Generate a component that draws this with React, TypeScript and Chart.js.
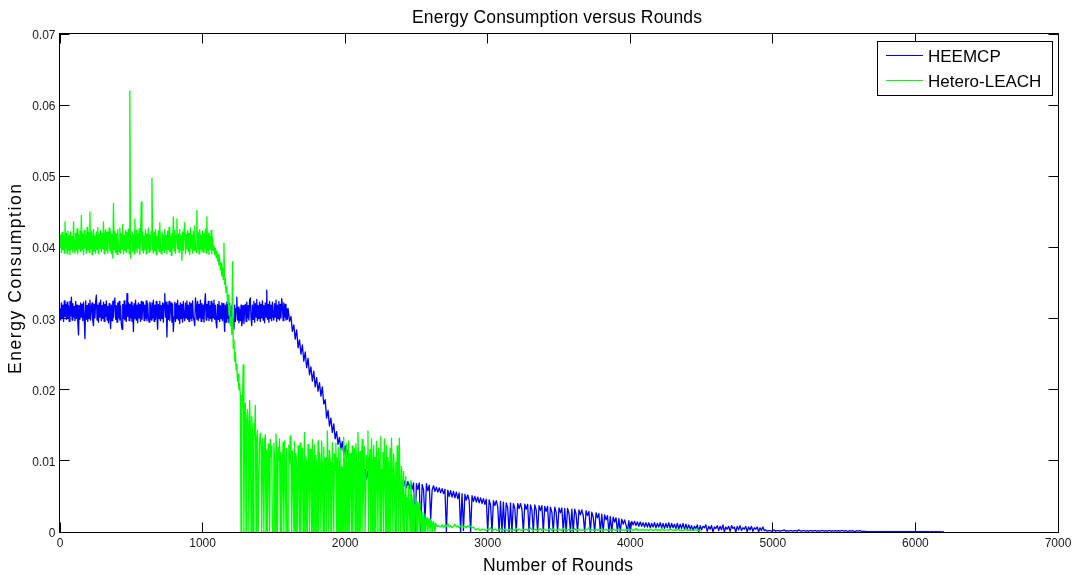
import { useEffect, useRef } from "react";
import { Chart, registerables } from "chart.js";

Chart.register(...registerables);

// ---------- data ----------
const CHART_TITLE = "Energy Consumption versus Rounds";
const X_AXIS_TITLE = "Number of Rounds";
const Y_AXIS_TITLE = "Energy Consumption";
const SERIES_NAMES = ["HEEMCP", "Hetero-LEACH"];

const X_TICKS = [0, 1000, 2000, 3000, 4000, 5000, 6000, 7000];
const X_TICK_LABELS = ["0", "1000", "2000", "3000", "4000", "5000", "6000", "7000"];
const Y_TICKS = [0, 0.01, 0.02, 0.03, 0.04, 0.05, 0.06, 0.07];
const Y_TICK_LABELS = ["0", "0.01", "0.02", "0.03", "0.04", "0.05", "0.06", "0.07"];

// energy values in units of 1e-4; each segment: first round, sampling step (rounds), values
const VALUE_UNIT = 1e-4;
const FINE_STEP = 5;
const COARSE_STEP = 10;

// HEEMCP
const heemcpPlateauStart = 0;
const heemcpPlateau = [
  314, 298, 322, 301, 319, 296, 325, 303, 320, 299,
  323, 300, 318, 296, 324, 304, 330, 298, 321, 302,
  317, 297, 324, 300, 319, 295, 277, 318, 299, 322,
  302, 320, 297, 323, 301, 272, 325, 299, 318, 296,
  321, 300, 326, 298, 317, 322, 297, 290, 320, 301,
  324, 333, 298, 319, 295, 322, 302, 326, 297, 318,
  300, 323, 296, 320, 303, 325, 298, 317, 294, 321,
  301, 286, 319, 297, 324, 302, 326, 329, 299, 318,
  295, 322, 301, 324, 298, 318, 293, 285, 320, 300,
  325, 298, 319, 296, 335, 303, 322, 297, 320, 301,
  323, 296, 318, 282, 321, 300, 326, 298, 319, 294,
  322, 301, 320, 296, 324, 299, 317, 323, 297, 319,
  300, 325, 297, 321, 302, 295, 323, 318, 298, 322,
  301, 326, 296, 319, 299, 324, 303, 285, 320, 300,
  324, 297, 318, 300, 322, 295, 321, 335, 302, 323,
  274, 319, 299, 324, 297, 318, 322, 295, 320, 282,
  302, 323, 296, 321, 300, 326, 298, 318, 293, 322,
  300, 320, 295, 324, 302, 297, 322, 301, 325, 299,
  319, 296, 323, 300, 321, 297, 325, 302, 298, 290,
  329, 318, 299, 324, 297, 320, 301, 326, 296, 321,
  300, 319, 295, 322, 335, 298, 320, 302, 324, 297,
  318, 300, 324, 296, 321, 301, 326, 299, 319, 294,
  287, 320, 299, 324, 296, 318, 300, 322, 297, 321,
  301, 282, 319, 295, 323, 300, 320, 294, 322, 302,
  297, 318, 293, 300, 285, 319, 296, 314, 330, 298,
  316, 294, 313, 297, 319, 290, 299, 318, 293, 312,
  320, 296, 323, 301, 318, 298, 326, 329, 300, 290,
  319, 299, 324, 295, 321, 302, 327, 297, 318, 300,
  323, 296, 320, 301, 325, 298, 318, 294, 322, 302,
  340, 299, 320, 295, 324, 300, 319, 297, 323, 303,
  298, 321, 302, 326, 296, 319, 300, 324, 298, 320,
  301, 328, 318, 297, 322, 302, 320, 298, 314, 299,
];
const heemcpDeclineStart = 1600;
const heemcpDecline = [
  314, 296, 303, 282, 291, 271, 284, 259, 270, 250,
  263, 240, 253, 231, 244, 221, 232, 212, 226, 204,
  217, 198, 210, 191, 204, 180, 186, 160, 171, 149,
  160, 140, 152, 131, 141, 123, 133, 116, 127, 109,
  121, 104, 115, 98, 110, 93, 105, 89, 101, 84,
  96, 80, 91, 77, 88, 74, 86, 72, 84, 70,
  82, 68, 80, 67, 78, 66, 77, 65, 76, 64,
  75, 64, 74, 63, 74, 63, 73, 63, 73, 62,
  72,
];
const heemcpTailStart = 2410;
const heemcpTail = [
  63, 72, 62, 71, 61, 70, 60, 69, 0, 68,
  60, 69, 0, 67, 59, 15, 68, 58, 66, 18,
  59, 65, 57, 63, 56, 62, 55, 61, 54, 60,
  0, 59, 50, 58, 49, 57, 48, 56, 47, 55,
  0, 54, 2, 53, 45, 52, 44, 0, 51, 43,
  50, 42, 49, 41, 48, 40, 47, 39, 46, 0,
  45, 38, 0, 44, 37, 44, 36, 0, 43, 0,
  42, 0, 41, 34, 0, 41, 0, 40, 33, 0,
  40, 33, 40, 32, 0, 39, 32, 39, 0, 38,
  31, 0, 38, 31, 0, 37, 30, 37, 0, 36,
  29, 36, 0, 35, 28, 0, 35, 28, 0, 34,
  27, 34, 0, 33, 0, 33, 26, 0, 32, 0,
  32, 25, 0, 31, 24, 31, 23, 0, 30, 23,
  29, 0, 28, 21, 0, 27, 20, 26, 0, 25,
  0, 24, 17, 23, 0, 22, 0, 21, 14, 20,
  0, 19, 0, 18, 11, 17, 10, 0, 16, 0,
  15, 10, 15, 9, 14, 8, 14, 8, 13, 7,
  13, 7, 13, 6, 12, 7, 13, 6, 12, 7,
  13, 6, 12, 5, 12, 6, 13, 5, 12, 6,
  11, 5, 12, 4, 11, 5, 12, 4, 11, 4,
];
const heemcpFadeStart = 4410;
const heemcpFade = [
  10, 4, 9, 2, 8, 5, 10, 0, 9, 3,
  8, 6, 10, 1, 8, 4, 9, 0, 7, 5,
  9, 2, 8, 3, 10, 0, 7, 4, 8, 1,
  9, 5, 7, 0, 8, 3, 9, 2, 6, 4,
  8, 0, 7, 3, 8, 1, 6, 4, 7, 0,
  6, 2, 7,
];
const heemcpLowStart = 4940;
const heemcpLow = [
  2, 3, 1, 2, 2, 1, 2, 3, 1, 2,
  2, 1, 2, 2, 3, 1, 2, 1, 2, 2,
  1, 2, 2, 1, 3, 2, 1, 2, 2, 1,
  2, 1, 2, 2, 1, 2, 2, 1, 2, 1,
  2, 2, 1, 2, 1, 2, 2, 1, 2, 1,
  2, 1, 2, 1, 2, 2, 1, 2, 1, 1,
  2, 1, 2, 1, 1, 2, 1, 2, 1, 1,
  1, 1,
];
const heemcpFloorStart = 5660;
const heemcpFloor = [
  0.6, 0.5, 0.5, 0.6, 0.4, 0.5, 0.6, 0.5, 0.4, 0.5,
  0.5, 0.6, 0.5, 0.4, 0.5, 0.5, 0.6, 0.5, 0.4, 0.5,
  0.5, 0.4, 0.5, 0.6, 0.5, 0.4, 0.5, 0.5, 0.4, 0.5,
  0.5, 0.4, 0.4, 0.5, 0.4, 0.5, 0.4, 0.4, 0.5, 0.4,
  0.4, 0.4, 0.5, 0.4, 0.3, 0.4, 0.4, 0.3, 0.4, 0.4,
  0.3, 0.4, 0.3, 0.3, 0.3,
];

// Hetero-LEACH
const leachPlateauStart = 0;
const leachPlateau = [
  400, 418, 393, 421, 397, 416, 392, 436, 399, 420,
  391, 423, 396, 417, 390, 422, 398, 415, 393, 436,
  401, 392, 420, 396, 426, 391, 418, 398, 423, 394,
  445, 397, 419, 390, 424, 399, 417, 392, 428, 396,
  421, 393, 450, 398, 423, 390, 417, 425, 395, 416,
  392, 422, 397, 428, 391, 418, 399, 424, 394, 420,
  398, 436, 391, 417, 425, 396, 421, 392, 415, 427,
  395, 422, 391, 418, 385, 462, 397, 423, 393, 419,
  390, 425, 400, 394, 427, 392, 420, 398, 432, 391,
  417, 396, 424, 393, 421, 399, 426, 391, 620, 385,
  415, 422, 394, 418, 391, 440, 397, 424, 393, 419,
  399, 426, 390, 417, 464, 396, 422, 392, 416, 397,
  425, 391, 419, 399, 427, 393, 417, 396, 422, 497,
  398, 392, 421, 395, 425, 390, 416, 399, 424, 394,
  435, 401, 391, 422, 396, 418, 393, 425, 398, 417,
  391, 423, 397, 428, 394, 416, 389, 420, 400, 443,
  395, 424, 392, 417, 440, 398, 419, 393, 425, 397,
  416, 382, 422, 396, 426, 435, 391, 418, 398, 424,
  394, 420, 390, 427, 399, 417, 392, 423, 396, 430,
  401, 393, 452, 397, 421, 391, 425, 398, 417, 395,
  423, 393, 419, 399, 426, 392, 443, 396, 420, 390,
  416, 397, 424, 391, 414, 396,
];
const leachDropStart = 1080;
const leachDrop = [
  402, 390, 399, 386, 395, 381, 390, 375, 385, 368,
  378, 360, 372, 355, 406, 348, 356, 336, 345, 322,
  333, 305, 318, 290, 302, 278, 380, 258, 270, 240,
  252, 228, 236, 212, 222, 200, 208, 192,
];
const leachScatterStart = 1270;
const leachScatter = [
  0, 192, 176, 235, 0, 168, 181, 0, 158, 172,
  150, 0, 185, 146, 0, 162, 138, 0, 152, 135,
  178, 0, 131, 143, 0, 0, 127, 139, 120, 0,
  132, 118, 0, 128, 137, 0, 115, 0, 124, 110,
  0, 130, 106, 121, 0, 0, 125, 103, 0, 138,
  108, 0, 119, 100, 131, 0, 112, 0, 98, 126,
  0, 128, 104, 0, 117, 0, 0, 122, 96, 135,
  101, 0, 114, 94, 0, 127, 0, 110, 92, 0,
  121, 99, 0, 125, 0, 103, 118, 0, 90, 140,
  0, 106, 95, 0, 123, 88, 0, 116, 101, 0,
  130, 0, 93, 122, 0, 108, 90, 0, 128, 0,
  112, 97, 0, 128, 93, 0, 119, 0, 104, 86,
  0, 142, 100, 0, 115, 98, 0, 0, 126, 91,
  0, 110, 87, 125, 0, 104, 0, 119, 95, 0,
  118, 0, 92, 0, 133, 96, 0, 109, 124, 0,
  96, 128, 0, 110, 85, 0, 121, 0, 100, 117,
  0, 124, 101, 0, 140, 90, 0, 113, 0, 105,
  130, 0, 94, 120, 0, 0, 108, 88, 142, 0,
  100, 116, 0, 131, 0, 95, 122, 0, 105, 0,
  127, 90, 0, 118, 99, 0, 134, 0, 88, 112,
  0, 131, 97, 0, 122, 0, 105, 90, 0, 118,
  0, 132, 86, 0, 110, 75, 0, 98, 0, 121,
  82, 0, 132, 60, 0, 92, 70, 0, 85, 0,
  52, 78, 0, 48, 0, 65, 42, 0, 72, 50,
  0, 45, 55, 0, 38, 48, 0, 42, 0, 35,
  40, 0, 30, 22, 0, 28, 18, 0, 25, 0,
  17, 20, 0, 15, 18, 0, 13, 16, 0, 12,
  15, 10, 0, 12, 9, 8,
];
const leachTailStart = 2650;
const leachTail = [
  9,
  8, 7, 10, 6, 9, 8, 12, 7, 9, 6,
  8, 11, 7, 9, 6, 8, 10, 7, 8, 6,
  9, 7, 8, 6, 7, 4, 3, 5, 3, 2,
  4, 3, 3, 2, 4, 3, 6, 2, 3, 4,
  3, 2, 3, 5, 2, 3, 4, 3, 2, 3,
  4, 2, 3, 3, 5, 2, 4, 3, 2, 3,
  3, 4, 2, 3, 6, 3, 2, 4, 3, 2,
  3, 5, 2, 3, 4, 2, 3, 3, 5, 2,
  4, 3, 2, 3, 4, 3, 2, 5, 3, 3,
  2, 4, 3, 2, 3, 5, 2, 3, 4, 2,
  3, 3, 2, 4, 3, 6, 2, 3, 3, 2,
  4, 2, 3, 3, 5, 2, 3, 4, 2, 3,
  3, 2, 4, 3, 2, 3, 5, 2, 3, 3,
  2, 4, 3, 2, 3, 4, 2, 3, 5, 2,
  3, 3, 2, 4, 2, 3, 3, 2, 4, 3,
  2, 3, 4, 2, 3, 2, 5, 3, 2, 3,
  3, 2, 4, 3, 2, 3, 2, 4, 3, 2,
  3, 2, 3, 4, 2, 3, 2, 3, 2, 3,
  3, 2, 3, 2, 2,
];

// ---------- helpers ----------
type Seg = [number, number, number[]];
function toPoints(segs: Seg[]) {
  const pts: { x: number; y: number }[] = [];
  for (const [start, step, vals] of segs) {
    vals.forEach((v, i) => pts.push({ x: start + i * step, y: v * VALUE_UNIT }));
  }
  return pts;
}

const FONT = '"Liberation Sans", Arial, Helvetica, sans-serif';

function drawFitted(ctx: CanvasRenderingContext2D, text: string, x: number, y: number, target: number) {
  ctx.save();
  const w = ctx.measureText(text).width;
  const n = Math.max(1, text.length - 1);
  const sp = (target - w) / n;
  (ctx as any).letterSpacing = sp.toFixed(2) + "px";
  const w2 = ctx.measureText(text).width;
  ctx.textAlign = "left";
  ctx.fillText(text, x - w2 / 2 + sp / 2, y);
  ctx.restore();
}

const framePlugin = {
  id: "matlabFrame",
  beforeDraw(chart: any) {
    const ctx = chart.ctx as CanvasRenderingContext2D;
    ctx.save();
    ctx.fillStyle = "#ffffff";
    ctx.fillRect(0, 0, chart.width, chart.height);
    ctx.restore();
  },
  beforeDatasetsDraw(chart: any) {
    const ctx = chart.ctx as CanvasRenderingContext2D;
    const a = chart.chartArea;
    const xs = chart.scales.x;
    const ys = chart.scales.y;
    const L = a.left - 0.5, T = a.top - 0.5, R = a.right + 0.5, B = a.bottom + 0.5;
    ctx.save();
    ctx.strokeStyle = "#000000";
    ctx.lineWidth = 1;
    ctx.strokeRect(L, T, R - L, B - T);
    const TL = 10;
    ctx.beginPath();
    X_TICKS.forEach((v) => {
      const px = Math.floor(xs.getPixelForValue(v)) + 0.5;
      ctx.moveTo(px, B); ctx.lineTo(px, B - TL);
      ctx.moveTo(px, T); ctx.lineTo(px, T + TL);
    });
    Y_TICKS.forEach((v) => {
      const py = Math.floor(ys.getPixelForValue(v)) + 0.5;
      ctx.moveTo(L, py); ctx.lineTo(L + TL, py);
      ctx.moveTo(R, py); ctx.lineTo(R - TL, py);
    });
    ctx.stroke();

    ctx.fillStyle = "#1a1a1a";
    ctx.font = `12px ${FONT}`;
    ctx.textBaseline = "alphabetic";
    ctx.textAlign = "center";
    X_TICKS.forEach((v, i) => {
      ctx.fillText(X_TICK_LABELS[i], xs.getPixelForValue(v), 547);
    });
    ctx.textAlign = "right";
    Y_TICKS.forEach((v, i) => {
      ctx.fillText(Y_TICK_LABELS[i], 55.5, ys.getPixelForValue(v) + 5);
    });

    ctx.fillStyle = "#000000";
    ctx.font = `17.5px ${FONT}`;
    drawFitted(ctx, CHART_TITLE, 557, 22.5, 290);
    ctx.font = `17.5px ${FONT}`;
    drawFitted(ctx, X_AXIS_TITLE, 558, 570.5, 150);
    ctx.save();
    ctx.translate(21, 279);
    ctx.rotate(-Math.PI / 2);
    ctx.font = `17.5px ${FONT}`;
    drawFitted(ctx, Y_AXIS_TITLE, 0, 0, 190);
    ctx.restore();
    ctx.restore();
  },
  afterDatasetsDraw(chart: any) {
    const ctx = chart.ctx as CanvasRenderingContext2D;
    const ds = chart.data.datasets;
    ctx.save();
    ctx.fillStyle = "#ffffff";
    ctx.fillRect(878, 41, 175, 55);
    ctx.strokeStyle = "#000000";
    ctx.lineWidth = 1;
    ctx.strokeRect(877.5, 41.5, 175, 54);
    const rows = [55.5, 80.5];
    ctx.font = `17px ${FONT}`;
    ctx.textBaseline = "alphabetic";
    ctx.textAlign = "left";
    SERIES_NAMES.forEach((name, i) => {
      ctx.strokeStyle = ds[i].borderColor;
      ctx.beginPath();
      ctx.moveTo(886, rows[i]);
      ctx.lineTo(923, rows[i]);
      ctx.stroke();
      ctx.fillStyle = "#000000";
      ctx.fillText(name, 928, rows[i] + 6.5);
    });
    ctx.restore();
  },
};

export default function App() {
  const canvasRef = useRef<HTMLCanvasElement | null>(null);

  useEffect(() => {
    const canvas = canvasRef.current;
    if (!canvas) return;
    const heemcpPoints = toPoints([
      [heemcpPlateauStart, FINE_STEP, heemcpPlateau],
      [heemcpDeclineStart, COARSE_STEP, heemcpDecline],
      [heemcpTailStart, COARSE_STEP, heemcpTail],
      [heemcpFadeStart, COARSE_STEP, heemcpFade],
      [heemcpLowStart, COARSE_STEP, heemcpLow],
      [heemcpFloorStart, COARSE_STEP, heemcpFloor],
    ]);
    const leachPoints = toPoints([
      [leachPlateauStart, FINE_STEP, leachPlateau],
      [leachDropStart, FINE_STEP, leachDrop],
      [leachScatterStart, FINE_STEP, leachScatter],
      [leachTailStart, COARSE_STEP, leachTail],
    ]);
    const chart = new Chart(canvas, {
      type: "line",
      data: {
        datasets: [
          {
            label: SERIES_NAMES[0],
            data: heemcpPoints,
            borderColor: "#0000ff",
            backgroundColor: "#0000ff",
            borderWidth: 1.3,
            pointRadius: 0,
            tension: 0,
            borderJoinStyle: "round",
            order: 2,
          },
          {
            label: SERIES_NAMES[1],
            data: leachPoints,
            borderColor: "#00ff00",
            backgroundColor: "#00ff00",
            borderWidth: 1.3,
            pointRadius: 0,
            tension: 0,
            borderJoinStyle: "round",
            order: 1,
          },
        ],
      },
      options: {
        animation: false,
        responsive: false,
        devicePixelRatio: 1,
        events: [],
        layout: { padding: { left: 60, right: 15, top: 34, bottom: 43 } },
        scales: {
          x: { type: "linear", min: 0, max: 7000, display: false },
          y: { type: "linear", min: 0, max: 0.07, display: false },
        },
        plugins: {
          legend: { display: false },
          title: { display: false },
          tooltip: { enabled: false },
        },
      },
      plugins: [framePlugin],
    } as any);
    return () => chart.destroy();
  }, []);

  return (
    <div style={{ position: "fixed", left: 0, top: 0, width: 1073, height: 575, background: "#fff" }}>
      <canvas ref={canvasRef} width={1073} height={575} style={{ display: "block" }} />
    </div>
  );
}
